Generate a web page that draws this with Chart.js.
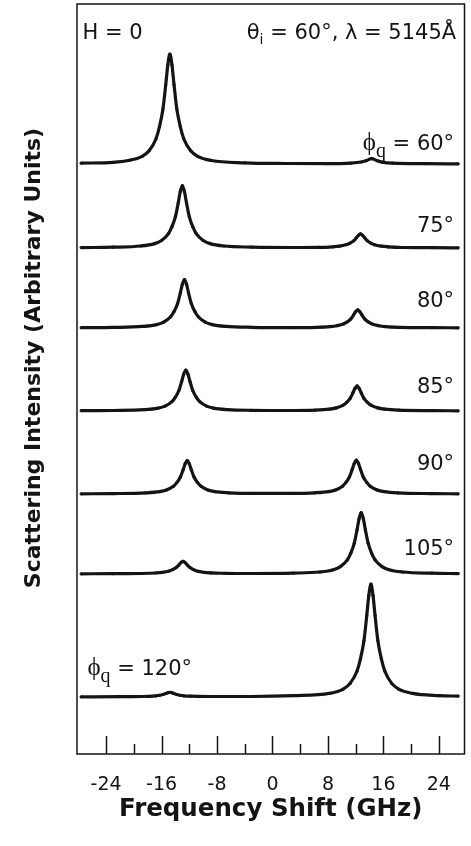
<!DOCTYPE html>
<html>
<head>
<meta charset="utf-8">
<script src="https://cdn.jsdelivr.net/npm/chart.js@4.4.1/dist/chart.umd.min.js"></script>
<style>
  html, body { margin: 0; padding: 0; background: #fff; }
  #wrap { width: 471px; height: 846px; }
</style>
</head>
<body>
<div id="wrap"><canvas id="spectra"></canvas></div>
<script>
// phi_q of each spectrum, top to bottom
const angles = [60, 75, 80, 85, 90, 105, 120];
// stacking offset of each spectrum (arbitrary units)
const offsets = [59.0, 50.6, 42.6, 34.3, 26.0, 18.0, 5.7];

// frequency shift (GHz) and intensity
const x60 = [-27.6, -23, -20.8, -18.8, -17.8, -16.8, -16.3, -15.8, -15.4, -15.1, -14.8, -14.5, -14.2, -13.8, -13.3, -12.8, -11.8, -10.8, -8.8, -4, 2, 8, 11.3, 12.8, 13.5, 14.3, 15.1, 15.8, 17.3, 22, 26.8];
const y60 = [0.08, 0.17, 0.35, 0.77, 1.32, 2.53, 3.74, 5.50, 7.92, 9.90, 11.0, 9.90, 7.92, 5.50, 3.74, 2.53, 1.32, 0.77, 0.35, 0.12, 0.05, 0.03, 0.09, 0.20, 0.33, 0.53, 0.33, 0.19, 0.08, 0.03, 0.02];

const x75 = [-27.6, -23, -19, -17, -16, -15, -14.5, -14, -13.6, -13.3, -13, -12.7, -12.4, -12, -11.5, -11, -10, -9, -7, -3, 3, 6.7, 8.7, 9.7, 10.7, 11.2, 11.7, 12.1, 12.4, 12.7, 13, 13.3, 13.7, 14.2, 14.7, 15.7, 16.7, 18.7, 23, 26.8];
const y75 = [0.04, 0.08, 0.20, 0.44, 0.75, 1.44, 2.13, 3.13, 4.50, 5.63, 6.25, 5.63, 4.50, 3.13, 2.13, 1.44, 0.75, 0.44, 0.20, 0.09, 0.05, 0.06, 0.12, 0.19, 0.34, 0.49, 0.71, 1.02, 1.27, 1.41, 1.27, 1.02, 0.71, 0.49, 0.33, 0.18, 0.11, 0.05, 0.03, 0.02];

const x80 = [-27.6, -23, -18.7, -16.7, -15.7, -14.7, -14.2, -13.7, -13.3, -13, -12.7, -12.4, -12.1, -11.7, -11.2, -10.7, -9.7, -8.7, -6.7, -3, 3, 6.3, 8.3, 9.3, 10.3, 10.8, 11.3, 11.7, 12, 12.3, 12.6, 12.9, 13.3, 13.8, 14.3, 15.3, 16.3, 18.3, 23, 26.8];
const y80 = [0.03, 0.06, 0.16, 0.34, 0.58, 1.12, 1.65, 2.43, 3.49, 4.37, 4.85, 4.37, 3.49, 2.43, 1.65, 1.12, 0.58, 0.34, 0.16, 0.07, 0.04, 0.07, 0.14, 0.23, 0.42, 0.62, 0.91, 1.31, 1.63, 1.81, 1.63, 1.31, 0.91, 0.62, 0.42, 0.23, 0.14, 0.07, 0.03, 0.02];

const x85 = [-27.6, -23, -18.5, -16.5, -15.5, -14.5, -14, -13.5, -13.1, -12.8, -12.5, -12.2, -11.9, -11.5, -11, -10.5, -9.5, -8.5, -6.5, -3, 3, 6.2, 8.2, 9.2, 10.2, 10.7, 11.2, 11.6, 11.9, 12.2, 12.5, 12.8, 13.2, 13.7, 14.2, 15.2, 16.2, 18.2, 23, 26.8];
const y85 = [0.03, 0.05, 0.13, 0.29, 0.49, 0.94, 1.39, 2.05, 2.95, 3.69, 4.10, 3.69, 2.95, 2.05, 1.39, 0.94, 0.49, 0.29, 0.14, 0.07, 0.05, 0.09, 0.19, 0.31, 0.59, 0.86, 1.26, 1.81, 2.26, 2.51, 2.26, 1.81, 1.26, 0.86, 0.59, 0.31, 0.19, 0.09, 0.04, 0.02];

const x90 = [-27.6, -23, -18.3, -16.3, -15.3, -14.3, -13.8, -13.3, -12.9, -12.6, -12.3, -12, -11.7, -11.3, -10.8, -10.3, -9.3, -8.3, -6.3, -3, 3, 6.1, 8.1, 9.1, 10.1, 10.6, 11.1, 11.5, 11.8, 12.1, 12.4, 12.7, 13.1, 13.6, 14.1, 15.1, 16.1, 18.1, 23, 26.8];
const y90 = [0.02, 0.04, 0.11, 0.23, 0.40, 0.77, 1.14, 1.68, 2.41, 3.02, 3.35, 3.02, 2.41, 1.68, 1.14, 0.77, 0.40, 0.23, 0.12, 0.06, 0.06, 0.12, 0.24, 0.41, 0.78, 1.16, 1.70, 2.45, 3.06, 3.40, 3.06, 2.45, 1.70, 1.16, 0.78, 0.41, 0.24, 0.11, 0.04, 0.02];

const x105 = [-27.6, -23, -18.9, -16.9, -15.9, -14.9, -14.4, -13.9, -13.5, -13.2, -12.9, -12.6, -12.3, -11.9, -11.4, -10.9, -9.9, -8.9, -6.9, -3, 3, 6.8, 8.8, 9.8, 10.8, 11.3, 11.8, 12.2, 12.5, 12.8, 13.1, 13.4, 13.8, 14.3, 14.8, 15.8, 16.8, 18.8, 23, 26.8];
const y105 = [0.02, 0.03, 0.05, 0.10, 0.16, 0.30, 0.44, 0.64, 0.91, 1.14, 1.26, 1.14, 0.91, 0.64, 0.44, 0.30, 0.17, 0.11, 0.07, 0.05, 0.09, 0.20, 0.43, 0.74, 1.41, 2.09, 3.08, 4.43, 5.54, 6.15, 5.54, 4.43, 3.08, 2.09, 1.41, 0.74, 0.43, 0.20, 0.08, 0.04];

const x120 = [-27.6, -22, -20.8, -18.8, -17.8, -16.8, -16.3, -15.8, -15.4, -15.1, -14.8, -14.5, -14.2, -13.8, -13.3, -12.8, -11.8, -10.8, -8.8, -3, 3, 8.2, 10.2, 11.2, 12.2, 12.7, 13.2, 13.6, 13.9, 14.2, 14.5, 14.8, 15.2, 15.7, 16.2, 17.2, 18.2, 20.2, 24, 26.8];
const y120 = [0.02, 0.03, 0.04, 0.05, 0.07, 0.12, 0.17, 0.25, 0.34, 0.43, 0.47, 0.43, 0.34, 0.25, 0.17, 0.12, 0.08, 0.06, 0.05, 0.05, 0.13, 0.36, 0.79, 1.36, 2.60, 3.84, 5.65, 8.14, 10.17, 11.30, 10.17, 8.14, 5.65, 3.84, 2.60, 1.36, 0.79, 0.36, 0.14, 0.09];

const xTicks = [-24, -20, -16, -12, -8, -4, 0, 4, 8, 12, 16, 20, 24];

const shifts = [x60, x75, x80, x85, x90, x105, x120];
const counts = [y60, y75, y80, y85, y90, y105, y120];

const INK = '#141414';
const SANS = '21px "DejaVu Sans"';
const SUBSANS = '14px "DejaVu Sans"';
const PHI = '25px "Liberation Serif", "DejaVu Serif"';
const SUBQ = '20px "Liberation Serif"';
const Y_TITLE = 'Scattering Intensity (Arbitrary Units)';

// text notes, anchored in data units
const notes = [
  { gx: -27.4, gy: 71.5, align: 'left', runs: [['H = 0', SANS]] },
  { gx: 26.5, gy: 71.5, align: 'right', runs: [['θ', SANS], ['i', SUBSANS, 5], [' = 60°, λ = 5145Å', SANS]] },
  { gx: 26.2, gy: 60.4, align: 'right', runs: [['ϕ', PHI], ['q', SUBQ, 7], [' = ' + angles[0] + '°', SANS]] },
  { gx: 26.2, gy: 52.2, align: 'right', runs: [[angles[1] + '°', SANS]] },
  { gx: 26.2, gy: 44.7, align: 'right', runs: [[angles[2] + '°', SANS]] },
  { gx: 26.2, gy: 36.1, align: 'right', runs: [[angles[3] + '°', SANS]] },
  { gx: 26.2, gy: 28.4, align: 'right', runs: [[angles[4] + '°', SANS]] },
  { gx: 26.2, gy: 19.9, align: 'right', runs: [[angles[5] + '°', SANS]] },
  { gx: -26.7, gy: 7.9, align: 'left', runs: [['ϕ', PHI], ['q', SUBQ, 7], [' = ' + angles[6] + '°', SANS]] }
];

const frame = {
  id: 'frame',
  afterDatasetsDraw(chart) {
    const { ctx, chartArea: a, scales: { x, y } } = chart;
    ctx.save();
    ctx.strokeStyle = INK;
    ctx.lineWidth = 1.5;
    ctx.strokeRect(a.left, a.top, a.right - a.left, a.bottom - a.top);
    // inward ticks, long on labelled values
    xTicks.forEach(v => {
      const px = Math.round(x.getPixelForValue(v)) + 0.5;
      const len = v % 8 === 0 ? 18 : 10;
      ctx.beginPath();
      ctx.moveTo(px, a.bottom);
      ctx.lineTo(px, a.bottom - len);
      ctx.stroke();
    });
    // notes
    ctx.fillStyle = INK;
    ctx.textBaseline = 'alphabetic';
    notes.forEach(n => {
      let w = 0;
      n.runs.forEach(r => { ctx.font = r[1]; w += ctx.measureText(r[0]).width; });
      let cx = x.getPixelForValue(n.gx);
      if (n.align === 'right') cx -= w;
      const by = y.getPixelForValue(n.gy);
      n.runs.forEach(r => {
        ctx.font = r[1];
        ctx.fillText(r[0], cx, by + (r[2] || 0));
        cx += ctx.measureText(r[0]).width;
      });
    });
    // y axis title, a little above the middle of the frame
    ctx.translate(34, y.getPixelForValue(39.6));
    ctx.rotate(-Math.PI / 2);
    ctx.font = 'bold 22px "DejaVu Sans"';
    ctx.textAlign = 'center';
    ctx.textBaseline = 'middle';
    ctx.fillText(Y_TITLE, 0, 0);
    ctx.restore();
  }
};

Chart.defaults.font.family = '"DejaVu Sans"';
Chart.defaults.color = INK;

new Chart(document.getElementById('spectra'), {
  type: 'line',
  data: {
    datasets: angles.map((a, i) => ({
      label: 'φq = ' + a + '°',
      data: shifts[i].map((v, j) => ({ x: v, y: counts[i][j] + offsets[i] })),
      borderColor: INK,
      backgroundColor: INK,
      borderWidth: 3.2,
      pointRadius: 1.6,
      pointBorderWidth: 0,
      cubicInterpolationMode: 'monotone',
      fill: false
    }))
  },
  options: {
    responsive: true,
    maintainAspectRatio: false,
    animation: false,
    layout: { padding: { top: 4, right: 3, left: 0, bottom: 0 } },
    plugins: { legend: { display: false }, tooltip: { enabled: false } },
    scales: {
      x: {
        type: 'linear',
        min: -28.2,
        max: 27.7,
        afterBuildTicks: s => { s.ticks = xTicks.map(v => ({ value: v })); },
        afterFit: s => { s.height = 92; },
        ticks: {
          autoSkip: false,
          maxRotation: 0,
          padding: 19.8,
          font: { size: 19, lineHeight: 1.2 },
          callback: v => (v % 8 === 0 ? String(v) : '')
        },
        grid: { display: false, drawTicks: false },
        border: { display: false },
        title: {
          display: true,
          text: 'Frequency Shift (GHz)',
          font: { size: 24.5, weight: 'bold', lineHeight: 1 },
          padding: { top: 0, bottom: 24 }
        }
      },
      y: {
        min: 0,
        max: 75,
        afterFit: s => { s.width = 77; },
        ticks: { display: false },
        grid: { display: false, drawTicks: false },
        border: { display: false }
      }
    }
  },
  plugins: [frame]
});
</script>
</body>
</html>
